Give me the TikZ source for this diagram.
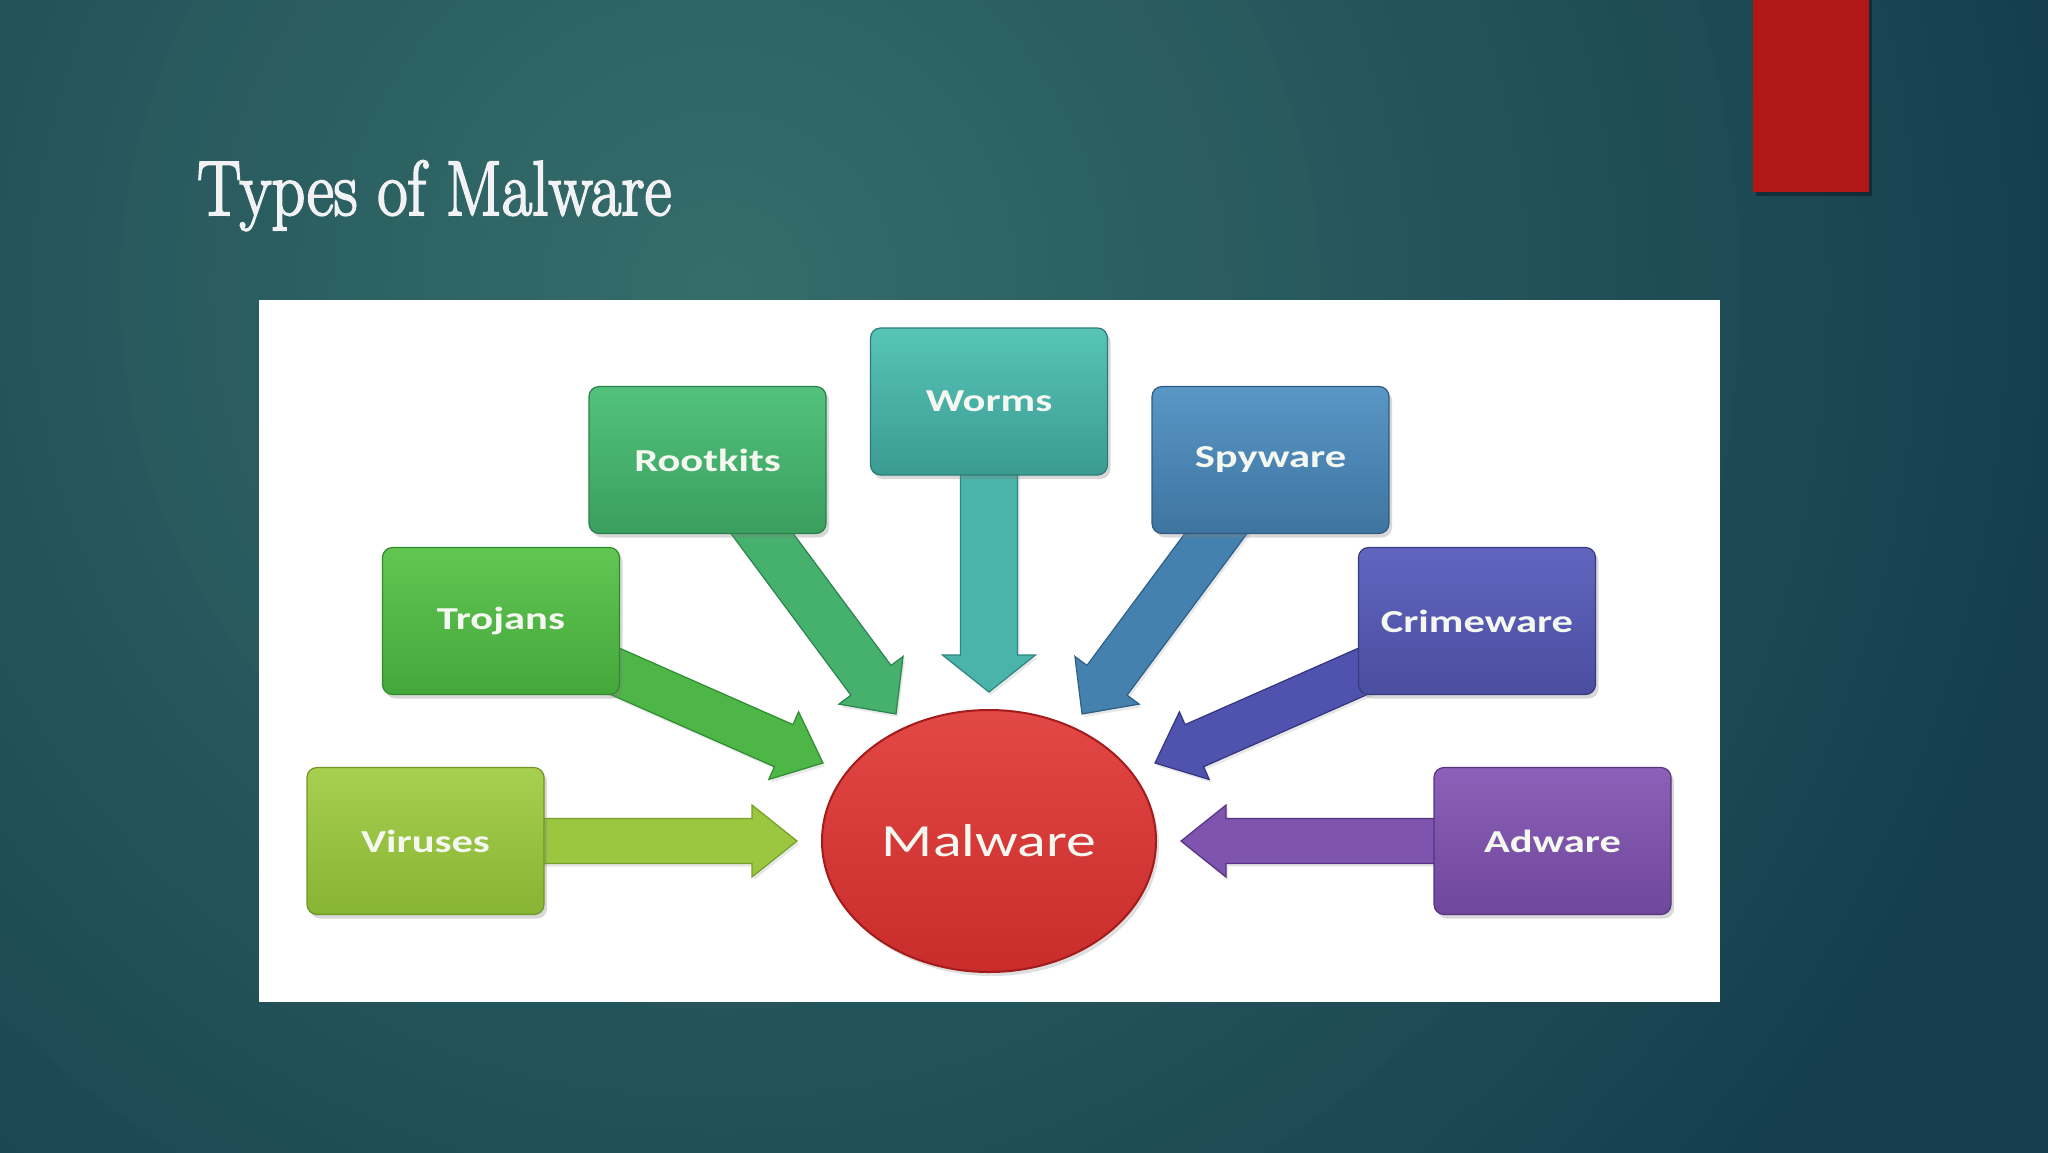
\documentclass[tikz,border=0pt]{standalone}
\usepackage{fontspec}
\usetikzlibrary{calc,shapes.geometric,shadows}
\newfontfamily\boxfont{Carlito}
\newfontfamily\titlefont{Latin Modern Roman}[FakeBold=2.6]
\definecolor{bgin}{HTML}{356E6B}
\definecolor{bgout}{HTML}{153D4C}
\definecolor{redbar}{HTML}{B21717}
\definecolor{titlecol}{HTML}{F2F2F4}
\definecolor{labelcol}{HTML}{F4F8F0}
\definecolor{virT}{HTML}{A8CF50}\definecolor{virB}{HTML}{86B433}\definecolor{virE}{HTML}{6E9628}
\definecolor{virA}{HTML}{9BC640}\definecolor{virAE}{HTML}{74A02C}
\definecolor{troT}{HTML}{62C654}\definecolor{troB}{HTML}{43A73B}\definecolor{troE}{HTML}{338A2E}
\definecolor{troA}{HTML}{4DB647}\definecolor{troAE}{HTML}{2F8C30}
\definecolor{rooT}{HTML}{52C27C}\definecolor{rooB}{HTML}{3A9F5E}\definecolor{rooE}{HTML}{2C8049}
\definecolor{rooA}{HTML}{46B06D}\definecolor{rooAE}{HTML}{2B8450}
\definecolor{worT}{HTML}{57C4B7}\definecolor{worB}{HTML}{3B9B93}\definecolor{worE}{HTML}{2C7C76}
\definecolor{worA}{HTML}{4AB3AA}\definecolor{worAE}{HTML}{2E8780}
\definecolor{spyT}{HTML}{5997C6}\definecolor{spyB}{HTML}{3E74A0}\definecolor{spyE}{HTML}{2F5B80}
\definecolor{spyA}{HTML}{4581AE}\definecolor{spyAE}{HTML}{2E5F88}
\definecolor{criT}{HTML}{6165BE}\definecolor{criB}{HTML}{4A4DA0}\definecolor{criE}{HTML}{393B80}
\definecolor{criA}{HTML}{5053AD}\definecolor{criAE}{HTML}{33367F}
\definecolor{adwT}{HTML}{8C60B8}\definecolor{adwB}{HTML}{6F479B}\definecolor{adwE}{HTML}{57357D}
\definecolor{adwA}{HTML}{7E54AE}\definecolor{adwAE}{HTML}{573383}
\definecolor{malT}{HTML}{E24845}\definecolor{malB}{HTML}{C92C2B}\definecolor{malE}{HTML}{A31B1B}
\pgfdeclarelayer{back}
\pgfdeclarelayer{mid}
\pgfsetlayers{back,mid,main}
% #1 fill, #2 edge, #3 start node, #4 tip coordinate, #5 half shaft, #6 half head, #7 head length
\newcommand{\blockarrow}[7]{%
  \coordinate (#4base) at ($(#4)!#7!(#3)$);
  \path[fill=#1, draw=#2, line width=1.2pt, line join=miter,
        drop shadow={shadow xshift=2pt, shadow yshift=-3pt, opacity=0.18}]
    ($(#3)!#5!90:(#4)$) -- ($(#4base)!#5!90:(#4)$) -- ($(#4base)!#6!90:(#4)$) -- (#4)
    -- ($(#4base)!#6!-90:(#4)$) -- ($(#4base)!#5!-90:(#4)$) -- ($(#3)!#5!-90:(#4)$) -- cycle;}
\begin{document}
\begin{tikzpicture}[x=1pt,y=-1pt,
  tbox/.style n args={3}{draw=#3, line width=1.2pt, top color=#1, bottom color=#2,
    rounded corners=10pt, minimum width=237pt, minimum height=147pt, inner sep=0pt,
    text=labelcol, font=\boxfont\bfseries\fontsize{32}{36}\selectfont,
    drop shadow={shadow xshift=3pt, shadow yshift=-4pt, opacity=0.3}}]
\useasboundingbox (0,0) rectangle (2048,1152);
\begin{pgfonlayer}{back}
  \fill[bgout] (0,0) rectangle (2048,1152);
  \begin{scope}
    \clip (0,0) rectangle (2048,1152);
    \foreach \i in {0,...,59} {
      \pgfmathsetmacro\r{1800-\i*30}
      \pgfmathtruncatemacro\p{min(100,\r/14)}
      \fill[bgout!\p!bgin] (720,290) circle (\r pt);
    }
  \end{scope}
  \fill[black, opacity=0.35] (1756,0) rectangle (1872,196);
  \fill[redbar] (1753,0) rectangle (1869,192);
  \fill[white] (259,300) rectangle (1720,1002);
\end{pgfonlayer}

\node[anchor=base west, inner sep=0pt, text=titlecol, font=\titlefont\fontsize{77.6}{80}\selectfont]
  (title) at (197,215) {\scalebox{0.85}[1]{Types of Malware}};

\node[ellipse, draw=malE, line width=2pt, top color=malT, bottom color=malB,
      minimum width=334pt, minimum height=262pt, inner sep=0pt, text=labelcol,
      font=\boxfont\fontsize{46}{50}\selectfont,
      drop shadow={shadow xshift=3pt, shadow yshift=-4pt, opacity=0.25}]
  (malware) at (989,841) {\scalebox{1.3}[1]{Malware}};

\node[tbox={virT}{virB}{virE}] (viruses)   at (425.5,841) {\scalebox{1.33}[1]{Viruses}};
\node[tbox={troT}{troB}{troE}] (trojans)   at (501,621)   {\scalebox{1.33}[1]{Trojans}};
\node[tbox={rooT}{rooB}{rooE}] (rootkits)  at (707.5,460) {\scalebox{1.33}[1]{Rootkits}};
\node[tbox={worT}{worB}{worE}] (worms)     at (989,401.5) {\scalebox{1.33}[1]{Worms}};
\node[tbox={spyT}{spyB}{spyE}] (spyware)   at (1270.5,460){\scalebox{1.33}[1]{Spyware}};
\node[tbox={criT}{criB}{criE}] (crimeware) at (1477,621)  {\scalebox{1.33}[1]{Crimeware}};
\node[tbox={adwT}{adwB}{adwE}] (adware)    at (1552.5,841){\scalebox{1.33}[1]{Adware}};

\coordinate (tV) at (797,841);
\coordinate (tT) at (823,763);
\coordinate (tR) at (896,714);
\coordinate (tW) at (989,692);
\coordinate (tS) at (1082,714);
\coordinate (tC) at (1155,763);
\coordinate (tA) at (1181,841);

\begin{pgfonlayer}{mid}
  \blockarrow{virA}{virAE}{viruses}{tV}{22.5pt}{36pt}{45pt}
  \blockarrow{troA}{troAE}{trojans}{tT}{23pt}{37pt}{43pt}
  \blockarrow{rooA}{rooAE}{rootkits}{tR}{25pt}{40pt}{42pt}
  \blockarrow{worA}{worAE}{worms}{tW}{28.5pt}{46.5pt}{37pt}
  \blockarrow{spyA}{spyAE}{spyware}{tS}{25pt}{40pt}{42pt}
  \blockarrow{criA}{criAE}{crimeware}{tC}{23pt}{37pt}{43pt}
  \blockarrow{adwA}{adwAE}{adware}{tA}{22.5pt}{36pt}{45pt}
\end{pgfonlayer}
\end{tikzpicture}
\end{document}
